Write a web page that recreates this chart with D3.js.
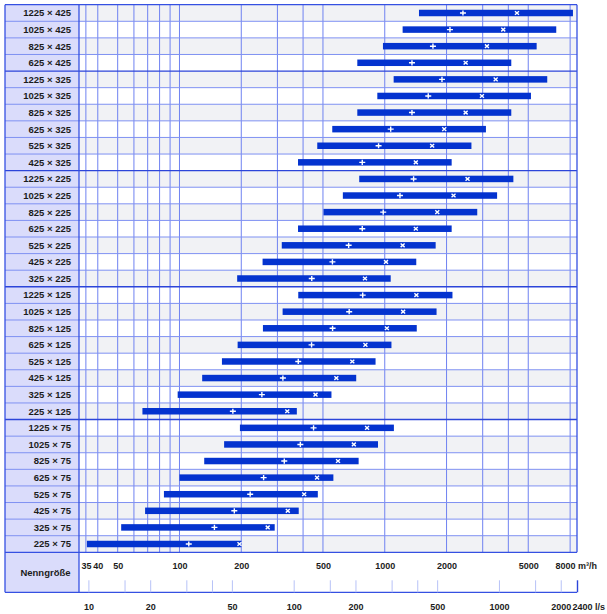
<!DOCTYPE html>
<html>
<head>
<meta charset="utf-8">
<script src="https://cdn.jsdelivr.net/npm/d3@7/dist/d3.min.js"></script>
<style>
  body { margin: 0; background: #ffffff; }
  svg { display: block; }
  text { font-family: "Liberation Sans", Arial, Helvetica, sans-serif; font-weight: bold; fill: #1c1c1c; }
</style>
</head>
<body>
<script>
// ---------- data ----------
const sizes = ["1225 × 425","1025 × 425","825 × 425","625 × 425",
  "1225 × 325","1025 × 325","825 × 325","625 × 325","525 × 325","425 × 325",
  "1225 × 225","1025 × 225","825 × 225","625 × 225","525 × 225","425 × 225","325 × 225",
  "1225 × 125","1025 × 125","825 × 125","625 × 125","525 × 125","425 × 125","325 × 125","225 × 125",
  "1225 × 75","1025 × 75","825 × 75","625 × 75","525 × 75","425 × 75","325 × 75","225 × 75"];
// flow values in m³/h
const minFlow   = [1468,1222,980,735, 1105,920,735,555,469,378, 751,625,503,378,315,254,191, 379,318,255,192,161,129,98,66, 197,165,132,100,84,68,52,35.4];
const plusFlow  = [2404,2078,1717,1357, 1900,1629,1357,1069,933,777, 1382,1186,983,777,667,556,441, 781,671,557,440,379,319,252,182, 450,388,324,257,221,185,148,111];
const crossFlow = [4406,3778,3146,2478, 3470,2975,2478,1949,1702,1417, 2531,2163,1802,1417,1222,1014,801, 1426,1229,1024,805,695,581,460,335, 820,707,592,468,405,337,269,196];
const maxFlow   = [8256,6846,5495,4134, 6188,5155,4134,3111,2644,2118, 4232,3526,2822,2118,1770,1424,1069, 2137,1788,1432,1078,902,726,550,373, 1108,927,746,562,472,381,291,200];

const gridM3h   = [35,40,50,60,70,80,90,100,200,300,400,500,1000,2000,3000,4000,5000,8000];
const topLabels = [35,40,50,100,200,500,1000,2000,5000,8000];
const lsTicks   = [10,15,20,30,40,50,100,150,200,300,400,500,1000,1500,2000,2400];
const lsLabels  = [10,20,50,100,200,500,1000,2000,2400];
const axisTitle = "Nenngröße";

// ---------- layout ----------
const W = 607, H = 614;
const L = 5, LR = 79, R = 577, T = 4.7, PB = 552.3, NB = 592.3;

const svg = d3.select("body").append("svg").attr("width", W).attr("height", H);

const x = d3.scaleLog().domain([32.4, 8640]).range([LR, R]);
const xls = d3.scaleLog().domain([9, 2400]).range([LR, R]);
const y = d3.scaleBand().domain(sizes).range([T, PB]);
const bw = y.bandwidth();

// label column background
svg.append("rect").attr("x", L).attr("y", T).attr("width", LR - L).attr("height", NB - T).attr("fill", "#dadcfb");

// row backgrounds
svg.append("g").selectAll("rect").data(sizes).join("rect")
  .attr("x", LR).attr("y", d => y(d)).attr("width", R - LR).attr("height", bw)
  .attr("fill", (d, i) => i % 2 === 0 ? "#f1f2f5" : "#ffffff");

// vertical grid
svg.append("g").selectAll("line").data(gridM3h).join("line")
  .attr("x1", d => x(d)).attr("x2", d => x(d)).attr("y1", T).attr("y2", PB)
  .attr("stroke", "#6f82f1").attr("stroke-width", 1);

// row separators
const groupOf = s => s.split("×")[1].trim();
svg.append("g").selectAll("line").data(sizes.slice(1)).join("line")
  .attr("x1", L).attr("x2", R).attr("y1", d => y(d)).attr("y2", d => y(d))
  .attr("stroke", (d, i) => groupOf(d) !== groupOf(sizes[i]) ? "#2c45d9" : "#7f91f2")
  .attr("stroke-width", (d, i) => groupOf(d) !== groupOf(sizes[i]) ? 1.4 : 1);

// row labels
svg.append("g").selectAll("text").data(sizes).join("text")
  .attr("x", 71).attr("y", d => y(d) + bw / 2 + 3.4)
  .attr("text-anchor", "end").attr("font-size", "9.5px").text(d => d);

// bars
const bh = 6.5;
svg.append("g").selectAll("rect").data(sizes).join("rect")
  .attr("x", (d, i) => x(minFlow[i])).attr("width", (d, i) => x(maxFlow[i]) - x(minFlow[i]))
  .attr("y", d => y(d) + bw / 2 - bh / 2).attr("height", bh)
  .attr("fill", "#0433cf");

// plus markers
svg.append("g").selectAll("path").data(sizes).join("path")
  .attr("d", (d, i) => {
    const cx = x(plusFlow[i]), cy = y(d) + bw / 2;
    return `M${cx - 3},${cy}H${cx + 3}M${cx},${cy - 2.6}V${cy + 2.6}`;
  })
  .attr("stroke", "#ffffff").attr("stroke-width", 1.4).attr("fill", "none");

// cross markers
svg.append("g").selectAll("path").data(sizes).join("path")
  .attr("d", (d, i) => {
    const cx = x(crossFlow[i]), cy = y(d) + bw / 2;
    return `M${cx - 2},${cy - 1.8}L${cx + 2},${cy + 1.8}M${cx - 2},${cy + 1.8}L${cx + 2},${cy - 1.8}`;
  })
  .attr("stroke", "#ffffff").attr("stroke-width", 1.4).attr("fill", "none");

// frame
const frame = svg.append("g").attr("stroke", "#3550e2").attr("stroke-width", 1.3).attr("fill", "none");
frame.append("line").attr("x1", L).attr("x2", L).attr("y1", T).attr("y2", NB);
frame.append("line").attr("x1", LR).attr("x2", LR).attr("y1", T).attr("y2", NB);
frame.append("line").attr("x1", L).attr("x2", R).attr("y1", T).attr("y2", T);
frame.append("line").attr("x1", R).attr("x2", R).attr("y1", T).attr("y2", PB);
frame.append("line").attr("x1", L).attr("x2", R).attr("y1", PB).attr("y2", PB);
frame.append("line").attr("x1", L).attr("x2", R).attr("y1", NB).attr("y2", NB);

// Nenngröße title
svg.append("text").attr("x", 45.5).attr("y", 575.5).attr("text-anchor", "middle")
  .attr("font-size", "9.5px").text(axisTitle);

// top axis (m³/h) labels
const last = topLabels[topLabels.length - 1];
const topAxis = d3.axisBottom(x).tickValues(topLabels.filter(v => v !== last)).tickSize(0).tickPadding(0)
  .tickFormat(d => String(d));
const gTop = svg.append("g").attr("transform", `translate(0,563)`).call(topAxis);
gTop.select(".domain").remove();
gTop.selectAll("text").attr("font-size", "9px").attr("font-family", null).attr("fill", "#1c1c1c");
svg.append("text").attr("x", x(last) + 5.5).attr("y", 569.4).attr("text-anchor", "end")
  .attr("font-size", "9px").text(String(last));
svg.append("text").attr("x", 578).attr("y", 569.4).attr("font-size", "9px").text("m³/h");

// l/s tick marks
const gLs = svg.append("g").attr("transform", `translate(0,${NB})`)
  .call(d3.axisTop(xls).tickValues(lsTicks).tickSize(12).tickFormat(""));
gLs.select(".domain").remove();
gLs.selectAll("line").attr("stroke", (d) => d === 2400 ? "#2c45d9" : "#b7c2f7")
  .attr("stroke-width", d => d === 2400 ? 1.4 : 1);

// l/s labels
const lastLs = lsLabels[lsLabels.length - 1];
const gLsLab = svg.append("g").attr("transform", `translate(0,603.5)`)
  .call(d3.axisBottom(xls).tickValues(lsLabels.filter(v => v !== lastLs)).tickSize(0).tickPadding(0)
    .tickFormat(d => String(d)));
gLsLab.select(".domain").remove();
gLsLab.selectAll("text").attr("font-size", "9px").attr("font-family", null).attr("fill", "#1c1c1c");
svg.append("text").attr("x", xls(lastLs) - 4.5).attr("y", 609.9).attr("font-size", "9px").text(lastLs + " l/s");
</script>
</body>
</html>
